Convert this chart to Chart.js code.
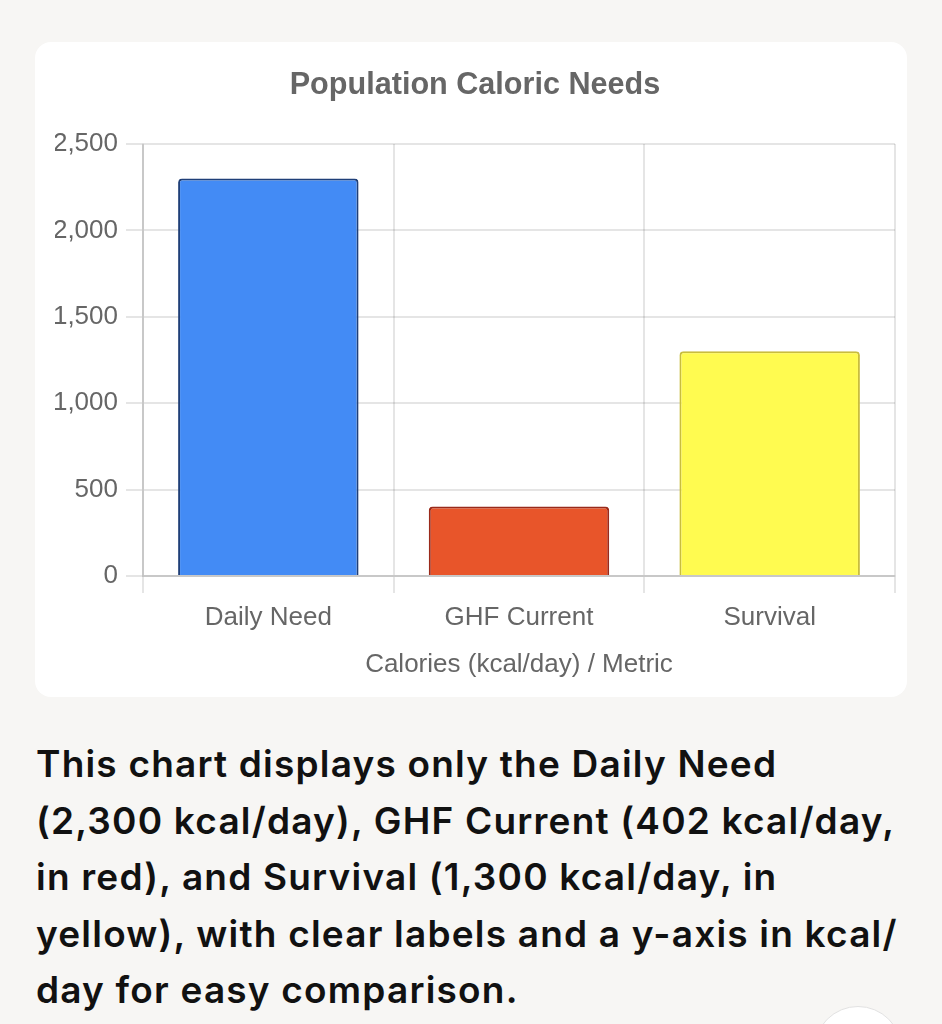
<!DOCTYPE html>
<html>
<head>
<meta charset="utf-8">
<script src="https://cdn.jsdelivr.net/npm/chart.js@4.4.1/dist/chart.umd.min.js"></script>
<style>
  html, body { margin:0; padding:0; }
  body { width:942px; height:1024px; background:#f7f6f4; position:relative; overflow:hidden; font-family:"Liberation Sans", Arial, sans-serif; }
  #card { position:absolute; left:35px; top:42px; width:872px; height:655px; background:#fff; border-radius:16px; }
  #card canvas { position:absolute; left:0; top:0; }
  #desc { position:absolute; left:36px; top:736px; font-family:Inter, "Noto Sans", sans-serif; font-weight:600; font-size:37px; line-height:56.5px; color:#111; white-space:nowrap; letter-spacing:1.2px; }
  #circle { position:absolute; left:814px; top:1006px; width:88px; height:88px; border-radius:50%; background:#fff; border:1.5px solid #e2e2e2; box-sizing:border-box; }
</style>
</head>
<body>
<div id="card"><canvas id="c" width="872" height="655"></canvas></div>
<div id="desc">This chart displays only the Daily Need<br>(2,300 kcal/day), GHF Current (402 kcal/day,<br>in red), and Survival (1,300 kcal/day, in<br>yellow), with clear labels and a y-axis in kcal/<br>day for easy comparison.</div>
<div id="circle"></div>
<script>
const categories = ["Daily Need", "GHF Current", "Survival"];
const calories = [2300, 402, 1300];
const fillColors = ["#438bf5", "#e8552a", "#fffb50"];
const edgeColors = ["#1f3f78", "#9a2a1a", "#c9bd3c"];
const yTicks = [0, 500, 1000, 1500, 2000, 2500];

const ctx = document.getElementById('c');
new Chart(ctx, {
  type: 'bar',
  data: {
    labels: categories,
    datasets: [{
      label: 'Calories',
      data: calories,
      backgroundColor: fillColors,
      borderColor: edgeColors,
      borderWidth: 2,
      borderRadius: 4
    }]
  },
  options: {
    responsive: false,
    animation: false,
    devicePixelRatio: 1,
    layout: { padding: { top: 15, left: 20, right: 12, bottom: 12.6 } },
    plugins: {
      legend: { display: false },
      tooltip: { enabled: false },
      title: {
        display: true,
        text: 'Population Caloric Needs',
        color: '#666',
        font: { family: '"Liberation Sans", Arial, sans-serif', size: 30.6, weight: 'bold' },
        padding: { top: 10, bottom: 40.3 }
      }
    },
    scales: {
      x: {
        grid: { color: 'rgba(0,0,0,0.1)', lineWidth: 2, tickLength: 17 },
        border: { color: 'rgba(0,0,0,0.13)', width: 2 },
        ticks: { color: '#666', padding: 9.5, font: { family: '"Liberation Sans", Arial, sans-serif', size: 26 } },
        title: {
          display: true,
          text: 'Calories (kcal/day) / Metric',
          color: '#666',
          padding: { top: 6, bottom: 4 },
          font: { family: '"Liberation Sans", Arial, sans-serif', size: 26 }
        }
      },
      y: {
        min: 0,
        max: 2500,
        afterFit: (s) => { s.width = 88; },
        afterBuildTicks: (s) => { s.ticks = yTicks.map(v => ({ value: v })); },
        grid: { color: 'rgba(0,0,0,0.1)', lineWidth: 2, tickLength: 17 },
        border: { color: 'rgba(0,0,0,0.13)', width: 2 },
        ticks: {
          color: '#666', padding: 8,
          font: { family: '"Liberation Sans", Arial, sans-serif', size: 26 },
          callback: (v) => v.toLocaleString('en-US')
        }
      }
    }
  }
});
</script>
</body>
</html>
